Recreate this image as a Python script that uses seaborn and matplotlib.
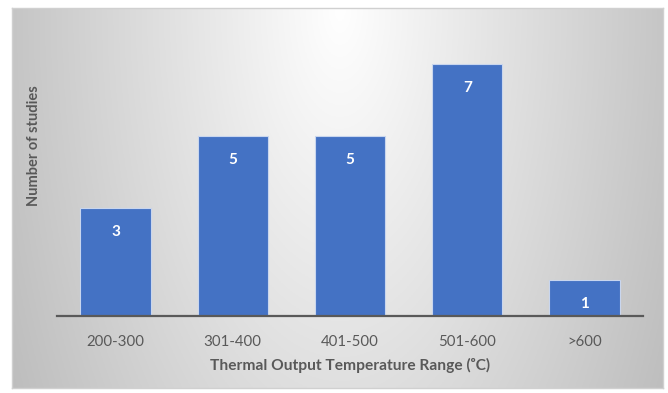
import numpy as np
import pandas as pd
import matplotlib
matplotlib.use("Agg")
import matplotlib.pyplot as plt
import seaborn as sns

categories = ["200-300", "301-400", "401-500", "501-600", ">600"]
studies = [3, 5, 5, 7, 1]
x_title = "Thermal Output Temperature Range (\u1d52C)"
y_title = "Number of studies"

sns.set_style("white")
plt.rcParams['font.family'] = ['Lato', 'DejaVu Sans']

W, H = 668, 393
fig = plt.figure(figsize=(W / 100, H / 100), dpi=100)
fig.patch.set_facecolor("white")

# background panel with radial gradient
bx0, by0, bx1, by1 = 12, 8, 663, 388
bg = fig.add_axes([bx0 / W, 1 - by1 / H, (bx1 - bx0) / W, (by1 - by0) / H])
xs = np.linspace(bx0, bx1, 300)
ys = np.linspace(by0, by1, 200)
X, Y = np.meshgrid(xs, ys)
r = np.sqrt(((X - 340) / 330) ** 2 + ((Y - 8) / 700) ** 2)
g = np.clip(255 - 58 * r, 180, 255) / 255
img = np.dstack([g, g, g])
bg.imshow(img, aspect="auto", extent=[0, 1, 0, 1], origin="upper")
bg.set_xticks([]); bg.set_yticks([])
for s in bg.spines.values():
    s.set_color("#d0d0d0")
    s.set_linewidth(1.0)

ax = fig.add_axes([57 / W, 1 - 316 / H, (643 - 57) / W, (316 - 28) / H])
ax.set_facecolor("none")
df = pd.DataFrame({"cat": categories, "n": studies})
sns.barplot(data=df, x="cat", y="n", color="#4472C4", saturation=1, width=0.6,
            edgecolor="#c9d6ee", linewidth=0.8, ax=ax)
ax.set_xlim(-0.5, len(categories) - 0.5)
ax.set_ylim(0, 8)
ax.set_yticks([])
for side in ["top", "right", "left"]:
    ax.spines[side].set_visible(False)
ax.spines["bottom"].set_color("#595959")
ax.spines["bottom"].set_linewidth(1.6)
ax.tick_params(axis="x", length=0, pad=14, labelsize=10.8, labelcolor="#595959")

for i, v in enumerate(studies):
    ax.annotate(str(v), (i, v), xytext=(0, -17), textcoords="offset points",
                ha="center", va="center", color="white", fontsize=11, fontweight="bold")

ax.set_xlabel(x_title, fontsize=11.2, fontweight="bold", color="#595959", labelpad=6)
ax.set_ylabel(y_title, fontsize=10.5, fontweight="bold", color="#595959")
ax.yaxis.set_label_coords(-0.027, 0.59)

fig.savefig("out.png", dpi=100)
